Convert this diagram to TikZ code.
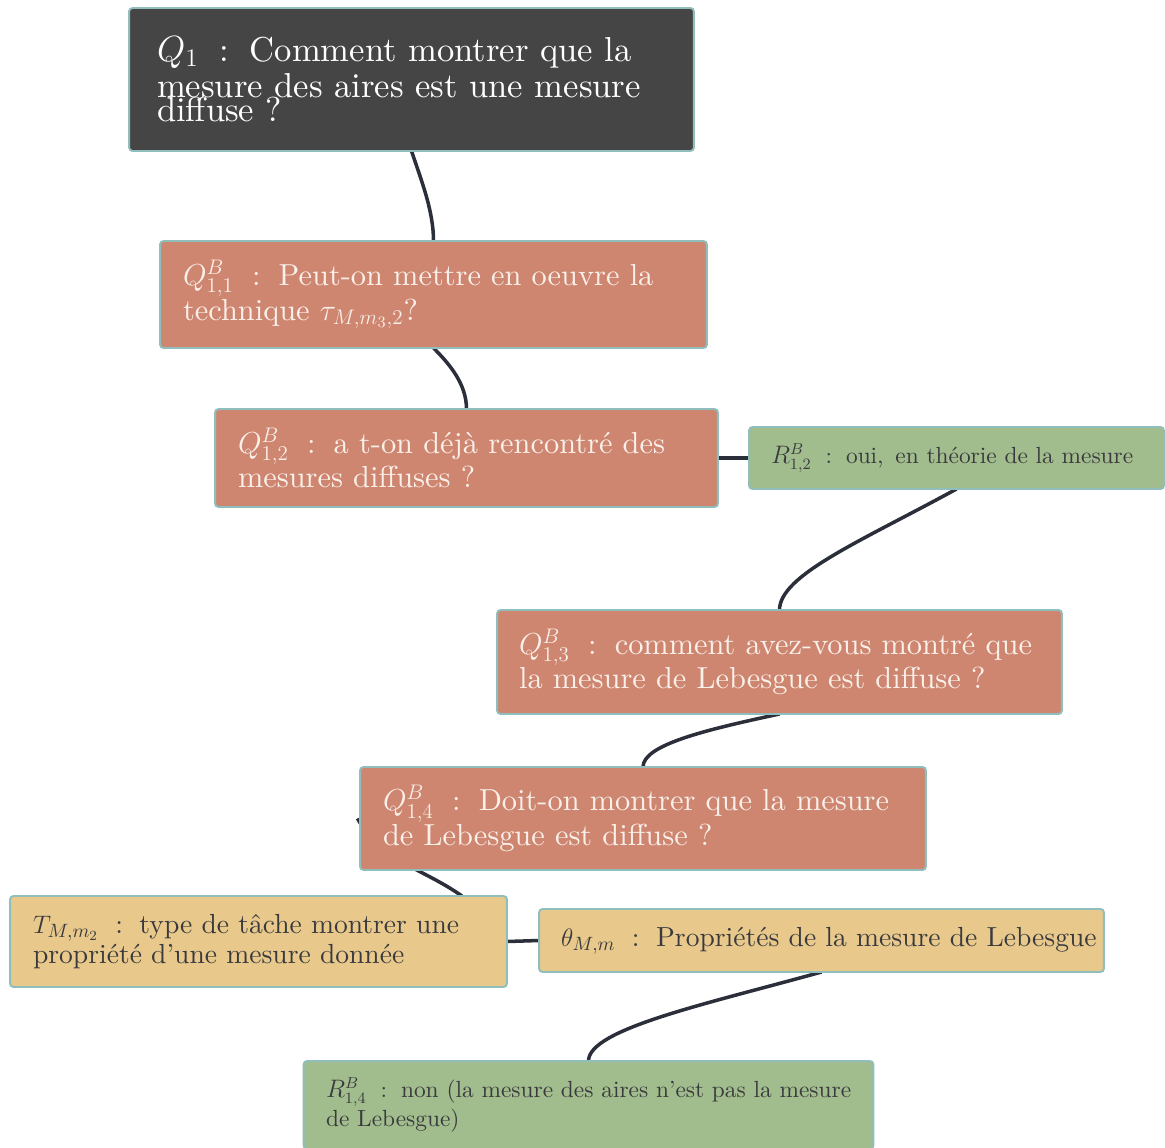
\documentclass[tikz,border=0pt]{standalone}
\usepackage{fontspec}
\setmainfont{lmroman10-regular.otf}[ItalicFont=lmroman10-italic.otf, BoldFont=lmroman10-bold.otf]
\usepackage{amsmath,amssymb}
\usepackage{xcolor}
\usepackage{tikz}
\usetikzlibrary{backgrounds}
\newcommand{\lab}[2]{\mbox{$#1$\hspace{0.6em}:\hspace{0.6em}#2}}

\begin{document}
\begin{tikzpicture}[x=0.02cm,y=-0.02cm,
  every node/.style={draw={rgb,255:red,143;green,190;blue,188}, line width=1.1pt, rounded corners=2pt, align=left, outer sep=0pt, inner xsep=0.46cm},
  topbox/.style={fill={rgb,255:red,69;green,69;blue,69}, text=white, font=\fontsize{19.7}{14.2}\selectfont, inner xsep=0.56cm},
  qbox/.style={fill={rgb,255:red,206;green,134;blue,112}, text={rgb,255:red,250;green,240;blue,234}, font=\fontsize{17.3}{19.8}\selectfont},
  rbox/.style={fill={rgb,255:red,162;green,189;blue,141}, text={rgb,255:red,58;green,58;blue,62}, font=\fontsize{13.3}{16.5}\selectfont, inner xsep=0.44cm},
  tbox/.style={fill={rgb,255:red,232;green,201;blue,139}, text={rgb,255:red,58;green,58;blue,62}, font=\fontsize{15.7}{17}\selectfont},
  link/.style={draw={rgb,255:red,43;green,47;blue,58}, line width=2pt}]
\useasboundingbox (0,0) rectangle (1165,1148);
\node[topbox, text width=10.18cm, minimum height=2.86cm] (q1) at (411.5,79.5) {\lab{Q_1}{Comment montrer que la}\\[1.5pt] \mbox{mesure des aires est une mesure}\\ diffuse ?};
\node[qbox, text width=10.02cm, minimum height=2.14cm] (q11) at (433.5,294.5) {\lab{Q^B_{1,1}}{Peut-on mettre en oeuvre la}\\ technique $\tau_{M,m_3,2}$?};
\node[qbox, text width=9.14cm, minimum height=1.96cm] (q12) at (466.5,458) {\lab{Q^B_{1,2}}{a t-on déjà rencontré des}\\ mesures diffuses ?};
\node[rbox, text width=7.42cm, minimum height=1.24cm] (r12) at (956.5,458) {\lab{R^B_{1,2}}{oui,\hspace{0.5em}en théorie de la mesure}};
\node[qbox, text width=10.42cm, minimum height=2.08cm, inner xsep=0.44cm] (q13) at (779.5,662) {\lab{Q^B_{1,3}}{comment avez-vous montré que}\\ \mbox{la mesure de Lebesgue est diffuse ?}};
\node[qbox, text width=10.4cm, minimum height=2.06cm] (q14) at (643,818.5) {\lab{Q^B_{1,4}}{Doit-on montrer que la mesure}\\ de Lebesgue est diffuse ?};
\node[tbox, text width=9.02cm, minimum height=1.82cm] (t) at (258.5,941.5) {\lab{T_{M,m_2}}{type de tâche montrer une}\\ \mbox{propriété d'une mesure donnée}};
\node[tbox, text width=10.42cm, minimum height=1.26cm, inner xsep=0.44cm] (theta) at (821.5,940.5) {\lab{\theta_{M,m}}{Propriétés de la mesure de Lebesgue}};
\node[rbox, text width=10.5cm, minimum height=1.76cm, inner xsep=0.45cm] (r14) at (588.5,1105) {\lab{R^B_{1,4}}{non (la mesure des aires n'est pas la mesure}\\ de Lebesgue)};
\begin{scope}[on background layer]
\draw[link] (q1.south) .. controls +(10,30) and +(0,-30) .. (q11.north);
\draw[link] (q11.south) .. controls +(16,16) and +(0,-25) .. (q12.north);
\draw[link] (q12.east) -- (r12.west);
\draw[link] (r12.south) .. controls +(-95,52) and +(0,-35) .. (q13.north);
\draw[link] (q13.south) .. controls +(-75,16) and +(0,-22) .. (q14.north);
\draw[link] ([xshift=-1.5pt]q14.west) to[out=-60,in=145] ([xshift=4.07cm]t.north);
\draw[link] (t.east) -- (theta.west);
\draw[link] (theta.south) .. controls +(-115,32) and +(0,-32) .. (r14.north);
\end{scope}
\end{tikzpicture}
\end{document}
